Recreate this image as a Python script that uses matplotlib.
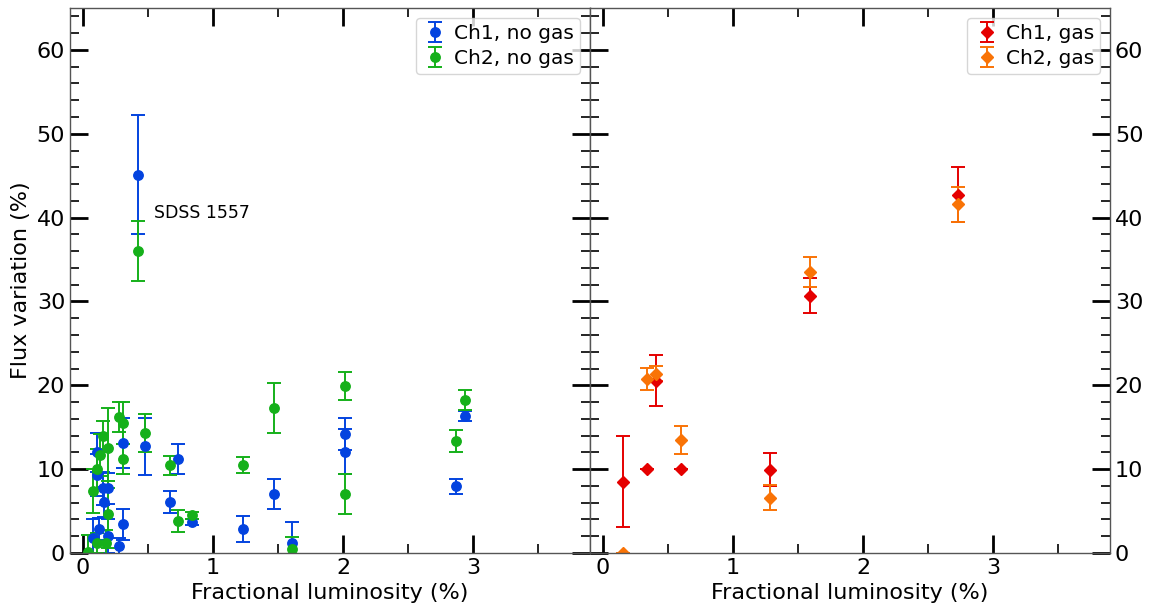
import matplotlib
matplotlib.use('Agg')
import matplotlib.pyplot as plt
from matplotlib.ticker import MultipleLocator

# ---------------- data ----------------
# Left panel: no gas
ch1_nogas_x = [0.08, 0.11, 0.11, 0.125, 0.15, 0.165, 0.19, 0.19, 0.28, 0.31, 0.31,
               0.42, 0.48, 0.67, 0.73, 0.84, 1.23, 1.47, 1.61, 2.015, 2.015, 2.87, 2.94]
ch1_nogas_y = [1.8, 12.0, 9.3, 2.85, 7.7, 6.1, 7.7, 2.0, 0.8, 13.1, 3.4,
               45.1, 12.75, 6.1, 11.25, 3.7, 2.85, 7.0, 1.15, 14.2, 12.1, 7.95, 16.3]
ch1_nogas_err = [2.2, 2.3, 2.5, 1.3, 2.0, 1.8, 1.8, 2.0, 1.0, 3.0, 1.8,
                 7.1, 3.4, 1.3, 1.8, 0.4, 1.55, 1.8, 2.5, 1.9, 2.7, 0.9, 0.6]

ch2_nogas_x = [0.04, 0.08, 0.105, 0.105, 0.13, 0.15, 0.18, 0.19, 0.19, 0.28, 0.31, 0.31,
               0.42, 0.48, 0.67, 0.73, 0.84, 1.23, 1.47, 1.61, 2.015, 2.015, 2.87, 2.94]
ch2_nogas_y = [0.1, 7.4, 10.0, 1.2, 11.7, 13.9, 1.2, 12.5, 4.6, 16.2, 15.5, 11.2,
               36.0, 14.3, 10.45, 3.8, 4.5, 10.5, 17.3, 0.5, 19.9, 7.0, 13.4, 18.25]
ch2_nogas_err = [2.0, 2.6, 2.4, 1.2, 2.5, 1.8, 1.5, 4.8, 4.0, 1.8, 2.5, 1.8,
                 3.6, 2.25, 1.15, 1.35, 0.4, 1.0, 3.0, 1.4, 1.65, 2.4, 1.3, 1.2]

# Right panel: gas
ch1_gas_x = [0.15, 0.335, 0.405, 0.6, 1.285, 1.59, 2.73]
ch1_gas_y = [8.5, 10.0, 20.55, 10.0, 9.95, 30.7, 42.75]
ch1_gas_err = [5.45, 0.0, 3.05, 0.0, 2.0, 2.1, 3.3]

ch2_gas_x = [0.15, 0.335, 0.405, 0.6, 1.285, 1.59, 2.73]
ch2_gas_y = [0.0, 20.75, 21.4, 13.5, 6.6, 33.5, 41.6]
ch2_gas_err = [0.0, 1.35, 0.85, 1.7, 1.5, 1.75, 2.1]

annot_text = 'SDSS 1557'
annot_xy = (0.55, 40.6)

x_label = 'Fractional luminosity (%)'
y_label = 'Flux variation (%)'

# ---------------- figure ----------------
fig = plt.figure(figsize=(11.52, 6.10), dpi=100)
W, H = 1152.0, 610.0
ax1 = fig.add_axes([70 / W, (H - 553) / H, 520 / W, 545 / H])
ax2 = fig.add_axes([590 / W, (H - 553) / H, 520 / W, 545 / H])

blue = '#0343df'
green = '#15b01a'
red = '#e50000'
orange = '#f97306'

eb_kw = dict(linestyle='none', capsize=5, elinewidth=1.4, capthick=1.4)

ax1.errorbar(ch1_nogas_x, ch1_nogas_y, yerr=ch1_nogas_err, fmt='o', ms=6.8,
             color=blue, label='Ch1, no gas', **eb_kw)
ax1.errorbar(ch2_nogas_x, ch2_nogas_y, yerr=ch2_nogas_err, fmt='o', ms=6.8,
             color=green, label='Ch2, no gas', **eb_kw)
ax1.text(annot_xy[0], annot_xy[1], annot_text, fontsize=12.5, va='center', ha='left')

ax2.errorbar(ch1_gas_x, ch1_gas_y, yerr=ch1_gas_err, fmt='D', ms=6.5,
             color=red, label='Ch1, gas', **eb_kw)
ax2.errorbar(ch2_gas_x, ch2_gas_y, yerr=ch2_gas_err, fmt='D', ms=6.5,
             color=orange, label='Ch2, gas', **eb_kw)

for ax in (ax1, ax2):
    ax.set_xlim(-0.1, 3.9)
    ax.set_ylim(0, 65)
    ax.xaxis.set_major_locator(MultipleLocator(1))
    ax.xaxis.set_minor_locator(MultipleLocator(0.5))
    ax.yaxis.set_major_locator(MultipleLocator(10))
    ax.yaxis.set_minor_locator(MultipleLocator(2))
    ax.tick_params(which='both', direction='in', top=True, right=True, left=True,
                   bottom=True, labelsize=16, color='black')
    ax.tick_params(which='major', length=13, width=2)
    ax.tick_params(which='minor', length=6.5, width=1.2)
    for sp in ax.spines.values():
        sp.set_color('#555555')
        sp.set_linewidth(1.0)
    ax.set_xlabel(x_label, fontsize=16)
    ax.legend(loc='upper right', fontsize=14.5, handletextpad=0.3,
              borderpad=0.3, labelspacing=0.3, handlelength=1.3)

ax1.set_ylabel(y_label, fontsize=16)
ax2.tick_params(axis='y', which='both', labelleft=False, labelright=True)

fig.savefig('out.png', dpi=100)
